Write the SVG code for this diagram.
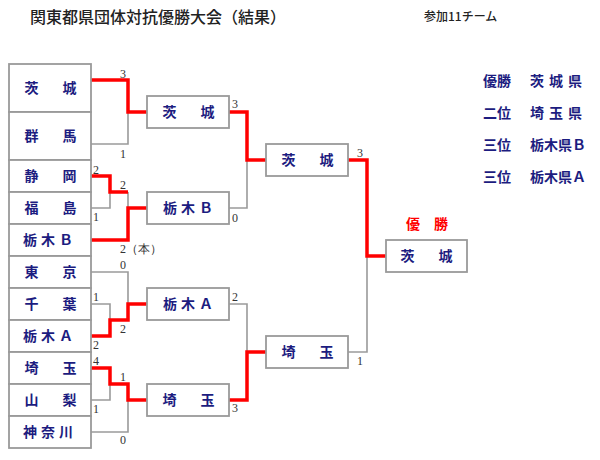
<svg xmlns="http://www.w3.org/2000/svg" width="600" height="460" viewBox="0 0 600 460">
<style>
.bx{fill:#fff;stroke:#9a9a9a;stroke-width:1.8}
.nm{font-family:"Noto Sans CJK JP","Noto Sans",sans-serif;font-size:14px;font-weight:bold;fill:#1c1c80;text-anchor:middle;letter-spacing:5px}
.nm3{font-family:"Noto Sans CJK JP","Noto Sans",sans-serif;font-size:14px;font-weight:bold;fill:#1c1c80;text-anchor:middle;letter-spacing:4px}
.g{fill:none;stroke:#9a9a9a;stroke-width:1.6}
.r{fill:none;stroke:#ff0000;stroke-width:3.5}
.sc text{font-family:"Liberation Serif",serif;font-size:12px;fill:#333333}
.lg text{font-family:"Noto Sans CJK JP","Noto Sans",sans-serif;font-size:14px;font-weight:bold;fill:#1c1c80}
</style>
<rect width="600" height="460" fill="#fff"/>
<text x="30" y="23" font-family="'Noto Sans CJK JP',sans-serif" font-size="16" font-weight="500" fill="#222">関東都県団体対抗優勝大会（結果）</text>
<text x="424" y="21" font-family="'Noto Sans CJK JP',sans-serif" font-size="12" font-weight="500" fill="#222">参加11チーム</text>

<g id="connectors">
<path class="g" d="M91,144H128V112M91,208H110V192M128,192V208M229,208H247V160M91,272H128V304M91,304H110V320M229,304H247V352M91,400H110V384M91,432H128V400M348,352H367V256"/>
<path class="r" d="M91,80H128V112H147M91,176H110V192H128M91,240H128V208H147M229,112H247V160H266M91,336H110V320H128V304H147M91,368H110V384H128V400H147M229,400H247V352H266M348,160H367V256H386"/>
</g>

<g id="t-ibaraki"><rect class="bx" x="9" y="64" width="82" height="48"/><text class="nm" x="53" y="93">茨　城</text></g>
<g id="t-gunma"><rect class="bx" x="9" y="112" width="82" height="48"/><text class="nm" x="53" y="141">群　馬</text></g>
<g id="t-shizuoka"><rect class="bx" x="9" y="160" width="82" height="32"/><text class="nm" x="53" y="181">静　岡</text></g>
<g id="t-fukushima"><rect class="bx" x="9" y="192" width="82" height="32"/><text class="nm" x="53" y="213">福　島</text></g>
<g id="t-tochigiB"><rect class="bx" x="9" y="224" width="82" height="32"/><text class="nm3" x="50" y="245">栃木Ｂ</text></g>
<g id="t-tokyo"><rect class="bx" x="9" y="256" width="82" height="32"/><text class="nm" x="53" y="277">東　京</text></g>
<g id="t-chiba"><rect class="bx" x="9" y="288" width="82" height="32"/><text class="nm" x="53" y="309">千　葉</text></g>
<g id="t-tochigiA"><rect class="bx" x="9" y="320" width="82" height="32"/><text class="nm3" x="50" y="341">栃木Ａ</text></g>
<g id="t-saitama"><rect class="bx" x="9" y="352" width="82" height="32"/><text class="nm" x="53" y="373">埼　玉</text></g>
<g id="t-yamanashi"><rect class="bx" x="9" y="384" width="82" height="32"/><text class="nm" x="53" y="405">山　梨</text></g>
<g id="t-kanagawa"><rect class="bx" x="9" y="416" width="82" height="32"/><text class="nm3" x="50" y="437">神奈川</text></g>

<g id="r2-ibaraki"><rect class="bx" x="147" y="96" width="82" height="32"/><text class="nm" x="191" y="117">茨　城</text></g>
<g id="r2-tochigiB"><rect class="bx" x="147" y="192" width="82" height="32"/><text class="nm3" x="190" y="213">栃木Ｂ</text></g>
<g id="r2-tochigiA"><rect class="bx" x="147" y="288" width="82" height="32"/><text class="nm3" x="190" y="309">栃木Ａ</text></g>
<g id="r2-saitama"><rect class="bx" x="147" y="384" width="82" height="32"/><text class="nm" x="191" y="405">埼　玉</text></g>

<g id="sf-ibaraki"><rect class="bx" x="266" y="144" width="82" height="32"/><text class="nm" x="310" y="165">茨　城</text></g>
<g id="sf-saitama"><rect class="bx" x="266" y="336" width="82" height="32"/><text class="nm" x="310" y="357">埼　玉</text></g>

<g id="final"><rect class="bx" x="386" y="240" width="81" height="32"/><text class="nm" x="429" y="261">茨　城</text>
<text x="427" y="229" font-family="'Noto Sans CJK JP',sans-serif" font-size="14" font-weight="bold" fill="#ff0000" text-anchor="middle">優　勝</text></g>

<g id="scores" class="sc">
<text x="120" y="78">3</text><text x="120" y="158">1</text>
<text x="93" y="174">2</text><text x="120" y="189">2</text>
<text x="93" y="221">1</text><text x="120" y="253">2（本）</text>
<text x="232" y="108">3</text><text x="232" y="222">0</text>
<text x="120" y="269">0</text><text x="93" y="301">1</text>
<text x="120" y="333">2</text><text x="93" y="349">2</text>
<text x="93" y="365">4</text><text x="120" y="381">1</text>
<text x="93" y="413">1</text><text x="120" y="444">0</text>
<text x="232" y="301">2</text><text x="232" y="412">3</text>
<text x="357" y="157">3</text><text x="357" y="365">1</text>
</g>

<g id="legend" class="lg">
<text x="483" y="86">優勝</text><text x="530" y="86" letter-spacing="5">茨城県</text>
<text x="483" y="118">二位</text><text x="530" y="118" letter-spacing="5">埼玉県</text>
<text x="483" y="150">三位</text><text x="530" y="150">栃木県Ｂ</text>
<text x="483" y="182">三位</text><text x="530" y="182">栃木県Ａ</text>
</g>
</svg>
